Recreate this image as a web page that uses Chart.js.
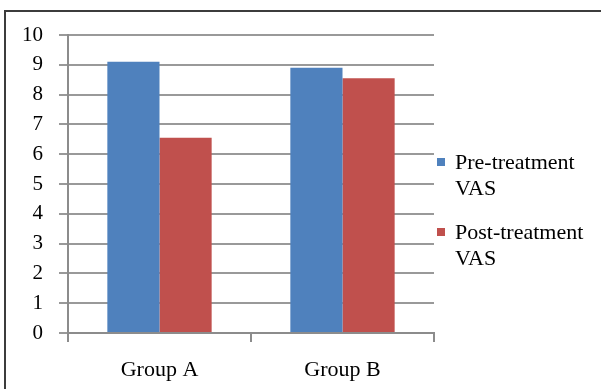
<!DOCTYPE html>
<html>
<head>
<meta charset="utf-8">
<script src="https://cdn.jsdelivr.net/npm/chart.js@4/dist/chart.umd.min.js"></script>
<style>
  html, body { margin: 0; padding: 0; background: #fff; }
  #wrap { position: relative; width: 601px; height: 389px; overflow: hidden; }
  #frame { position: absolute; left: 4px; top: 10px; width: 700px; height: 500px;
           border-left: 2px solid #3c3c3c; border-top: 2px solid #3c3c3c; pointer-events: none; }
  canvas { position: absolute; left: 0; top: 0; }
</style>
</head>
<body>
<div id="wrap">
  <canvas id="c" width="601" height="389"></canvas>
  <div id="frame"></div>
</div>
<script>
// Mean VAS scores per group, before and after treatment
const groups = ['Group A', 'Group B'];
const preTreatment = [9.1, 8.9];
const postTreatment = [6.55, 8.55];
const seriesNames = [['Pre-treatment', 'VAS'], ['Post-treatment', 'VAS']];
const yTicks = [0, 1, 2, 3, 4, 5, 6, 7, 8, 9, 10];

const FONT = 'Liberation Serif, "Times New Roman", serif';
const BLUE = '#4F81BD';
const RED = '#C0504D';
const INK = '#000';

// Legend on the right with wrapped two-line labels
const sideLegend = {
  id: 'sideLegend',
  afterDraw(chart) {
    const ctx = chart.ctx;
    const x0 = 437, y0 = 162, itemGap = 70, lineGap = 26;
    ctx.save();
    ctx.font = '22px ' + FONT;
    ctx.textBaseline = 'middle';
    chart.data.datasets.forEach((ds, i) => {
      const y = y0 + i * itemGap;
      ctx.fillStyle = ds.backgroundColor;
      ctx.fillRect(x0, y - 4, 8, 8);
      ctx.fillStyle = INK;
      seriesNames[i].forEach((line, j) => ctx.fillText(line, x0 + 18, y + j * lineGap + 1));
    });
    ctx.restore();
  }
};

new Chart(document.getElementById('c'), {
  type: 'bar',
  data: {
    labels: groups,
    datasets: [
      { label: seriesNames[0].join(' '), data: preTreatment, backgroundColor: BLUE },
      { label: seriesNames[1].join(' '), data: postTreatment, backgroundColor: RED }
    ]
  },
  options: {
    responsive: false,
    animation: false,
    devicePixelRatio: 1,
    layout: { padding: { left: 0, top: 35, right: 167, bottom: 0 } },
    plugins: { legend: { display: false }, tooltip: { enabled: false } },
    datasets: { bar: { categoryPercentage: 0.57, barPercentage: 1.0 } },
    scales: {
      x: {
        grid: { offset: true, drawOnChartArea: false, drawTicks: true, tickLength: 9, color: '#8c8c8c', lineWidth: 2 },
        border: { color: '#8c8c8c', width: 2 },
        ticks: { color: INK, font: { family: FONT, size: 22 }, padding: 15 },
        afterFit(scale) { scale.height = 56; }
      },
      y: {
        min: 0, max: 10,
        afterBuildTicks(scale) { scale.ticks = yTicks.map(v => ({ value: v })); },
        grid: { color: '#999999', lineWidth: 2, tickLength: 9 },
        border: { color: '#8c8c8c', width: 2 },
        ticks: { color: INK, font: { family: FONT, size: 21 }, padding: 16 },
        afterFit(scale) { scale.width = 68; }
      }
    }
  },
  plugins: [sideLegend]
});
</script>
</body>
</html>
